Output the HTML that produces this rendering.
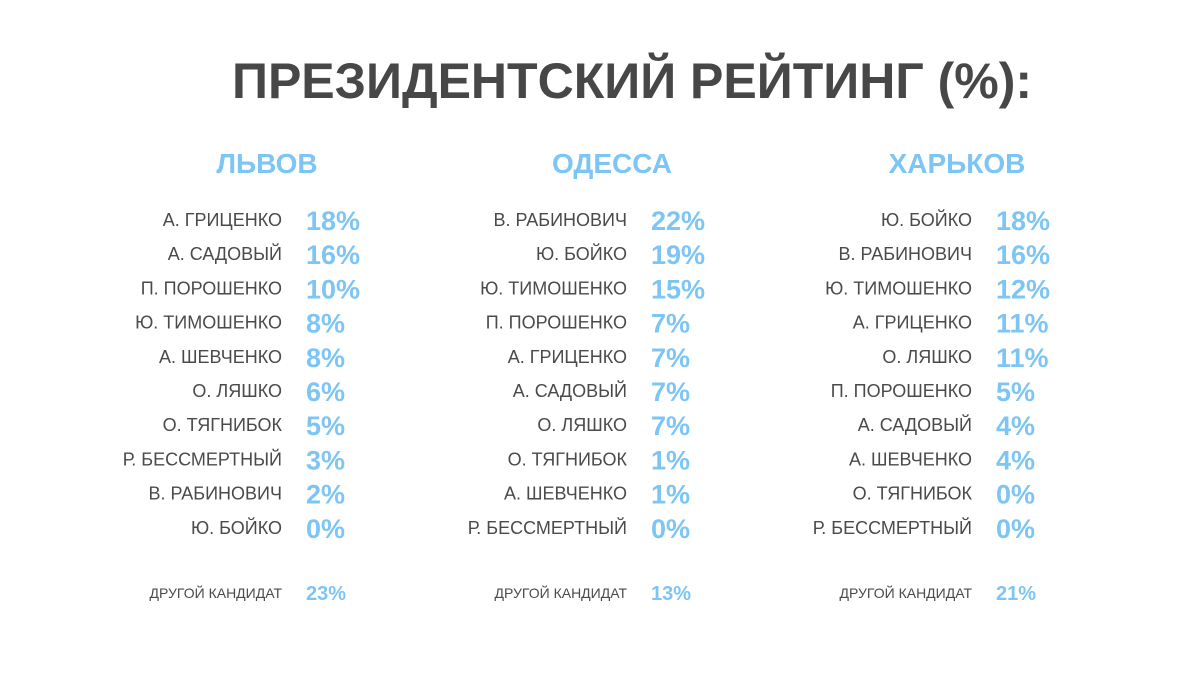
<!DOCTYPE html>
<html><head><meta charset="utf-8"><style>
html,body{margin:0;padding:0;background:#fff;width:1200px;height:675px;overflow:hidden}
svg{display:block;font-family:"Liberation Sans","DejaVu Sans",sans-serif}
</style></head><body>
<svg id="chart" width="1200" height="675" viewBox="0 0 1200 675">
<text x="232" y="98" font-size="50" font-weight="bold" fill="#474747" textLength="800" lengthAdjust="spacingAndGlyphs">ПРЕЗИДЕНТСКИЙ РЕЙТИНГ (%):</text>
</svg>
<script>
const cities = ["ЛЬВОВ","ОДЕССА","ХАРЬКОВ"];
const lvivNames = ["А. ГРИЦЕНКО","А. САДОВЫЙ","П. ПОРОШЕНКО","Ю. ТИМОШЕНКО","А. ШЕВЧЕНКО","О. ЛЯШКО","О. ТЯГНИБОК","Р. БЕССМЕРТНЫЙ","В. РАБИНОВИЧ","Ю. БОЙКО"];
const lvivValues = [18,16,10,8,8,6,5,3,2,0];
const odessaNames = ["В. РАБИНОВИЧ","Ю. БОЙКО","Ю. ТИМОШЕНКО","П. ПОРОШЕНКО","А. ГРИЦЕНКО","А. САДОВЫЙ","О. ЛЯШКО","О. ТЯГНИБОК","А. ШЕВЧЕНКО","Р. БЕССМЕРТНЫЙ"];
const odessaValues = [22,19,15,7,7,7,7,1,1,0];
const kharkivNames = ["Ю. БОЙКО","В. РАБИНОВИЧ","Ю. ТИМОШЕНКО","А. ГРИЦЕНКО","О. ЛЯШКО","П. ПОРОШЕНКО","А. САДОВЫЙ","А. ШЕВЧЕНКО","О. ТЯГНИБОК","Р. БЕССМЕРТНЫЙ"];
const kharkivValues = [18,16,12,11,11,5,4,4,0,0];
const otherLabel = "ДРУГОЙ КАНДИДАТ";
const otherValues = [23,13,21];

const svg = document.getElementById('chart');
const NS = "http://www.w3.org/2000/svg";
const colX = i => 282 + i * 345;
const rowY = r => 228 + r * 34.2;
const BLUE = "#7dc5f5", GRAY = "#4a4a4a";
function t(x, y, s, size, weight, fill, anchor){
  const e = document.createElementNS(NS,'text');
  e.setAttribute('x',x); e.setAttribute('y',y);
  e.setAttribute('font-size',size); e.setAttribute('font-weight',weight);
  e.setAttribute('fill',fill); e.setAttribute('text-anchor',anchor);
  e.textContent = s; svg.appendChild(e); return e;
}
const names = [lvivNames, odessaNames, kharkivNames];
const vals = [lvivValues, odessaValues, kharkivValues];
cities.forEach((c,i)=>{
  const h = t(colX(i)-15, 173, c, 28, 'bold', BLUE, 'middle');
  
  
  names[i].forEach((n,r)=>{
    const a = t(colX(i), rowY(r)-2, n, 18, 'normal', GRAY, 'end');
    
    
    const b = t(colX(i)+24, rowY(r)+2, vals[i][r] + '%', 27, 'bold', BLUE, 'start');
    
    
  });
  const o = t(colX(i), 598, otherLabel, 14, 'normal', GRAY, 'end');
  
  
  const ov = t(colX(i)+24, 600, otherValues[i] + '%', 20, 'bold', BLUE, 'start');
  
  
});
</script>
</body></html>
